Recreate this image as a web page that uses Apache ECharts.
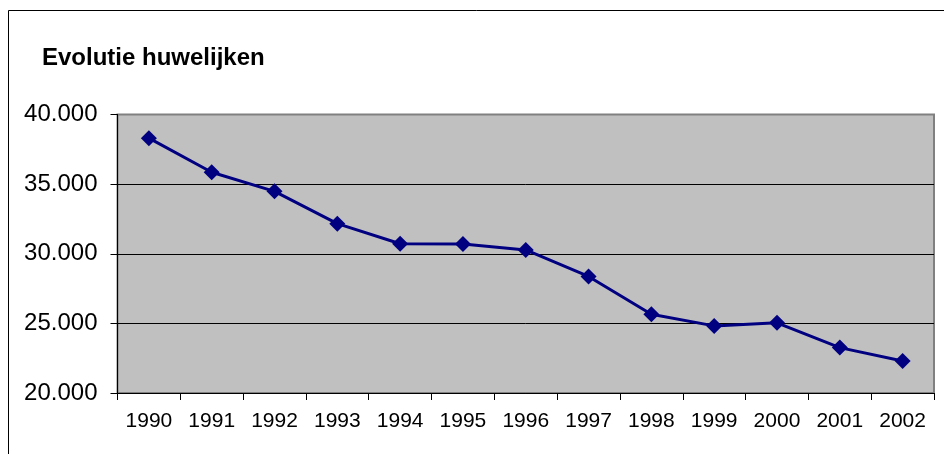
<!DOCTYPE html>
<html>
<head>
<meta charset="utf-8">
<script src="https://cdn.jsdelivr.net/npm/echarts@6/dist/echarts.min.js"></script>
<style>
  html, body { margin: 0; padding: 0; background: #fff; }
  #chart { width: 944px; height: 454px; }
</style>
</head>
<body>
<div id="chart"></div>
<script>
// jaren en aantal huwelijken
const years = ["1990", "1991", "1992", "1993", "1994", "1995", "1996",
               "1997", "1998", "1999", "2000", "2001", "2002"];
const marriages = [38300, 35850, 34480, 32160, 30720, 30700, 30270,
                   28370, 25660, 24820, 25040, 23260, 22300];
const yMin = 20000;
const yMax = 40000;
const yStep = 5000;

const chart = echarts.init(document.getElementById("chart"));

const option = {
  animation: false,
  backgroundColor: "#fff",
  graphic: [
    {
      // kader rond de grafiek
      type: "rect",
      shape: { x: 8.5, y: 10.5, width: 1000, height: 1000 },
      style: { fill: "none", stroke: "#000", lineWidth: 1 },
      silent: true
    }
  ],
  title: {
    text: "Evolutie huwelijken",
    left: 37,
    top: 41,
    textStyle: {
      fontFamily: "Liberation Sans, Arial",
      fontSize: 24,
      fontWeight: "bold",
      color: "#000"
    }
  },
  grid: {
    left: 117.5,
    right: 10,
    top: 114.5,
    bottom: 61,
    show: true,
    backgroundColor: "#c0c0c0",
    borderColor: "#808080",
    borderWidth: 2
  },
  xAxis: {
    type: "category",
    data: years,
    boundaryGap: true,
    axisLine: { lineStyle: { color: "#000", width: 1 } },
    axisTick: { show: true, length: 7, inside: false, lineStyle: { color: "#000" } },
    axisLabel: {
      margin: 18,
      color: "#000",
      fontFamily: "Liberation Sans, Arial",
      fontSize: 21
    },
    splitLine: { show: false }
  },
  yAxis: {
    type: "value",
    min: yMin,
    max: yMax,
    interval: yStep,
    axisLine: { show: true, lineStyle: { color: "#000", width: 1 } },
    axisTick: { show: true, length: 7, lineStyle: { color: "#000" } },
    axisLabel: {
      margin: 20,
      color: "#000",
      fontFamily: "Liberation Sans, Arial",
      fontSize: 24,
      formatter: function (v) {
        return (v / 1000).toFixed(0) + ".000";
      }
    },
    splitLine: {
      show: true,
      showMaxLine: false,
      lineStyle: { color: "#000", width: 1 }
    }
  },
  series: [
    {
      name: "huwelijken",
      type: "line",
      data: marriages,
      symbol: "diamond",
      symbolSize: 16,
      lineStyle: { color: "#000080", width: 3 },
      itemStyle: { color: "#000080" }
    }
  ]
};

chart.setOption(option);
</script>
</body>
</html>
